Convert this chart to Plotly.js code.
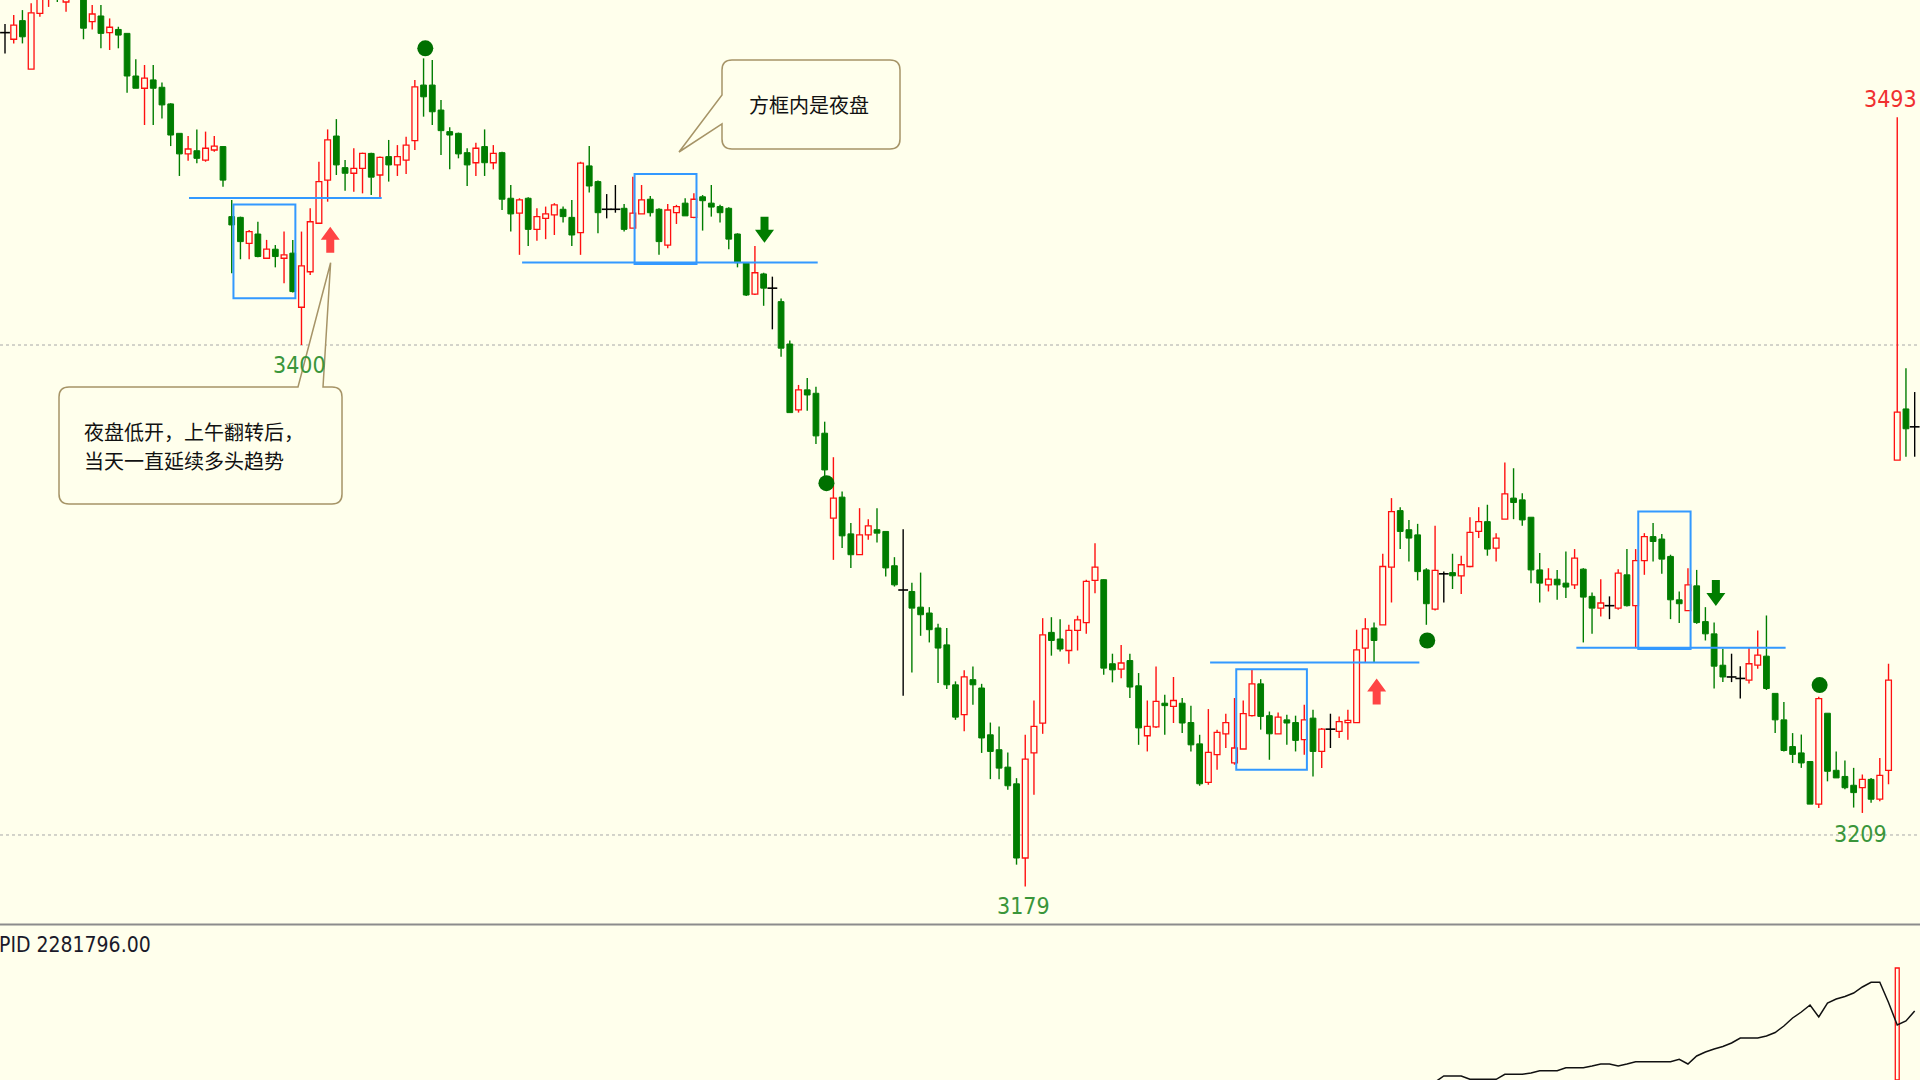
<!DOCTYPE html>
<html><head><meta charset="utf-8">
<script src="https://cdn.plot.ly/plotly-3.0.1.min.js"></script>
<style>html,body{margin:0;padding:0;background:#FFFFEC;overflow:hidden}</style>
</head><body><div id="chart" style="width:1920px;height:1080px"></div>
<script>
// ---------------- DATA ----------------
const opens = [3527.5,3524.8,3532.4,3512.6,3535.4,3542,3550,3540,3548,3546,
3532,3534.3,3527.5,3528.8,3527.2,3509.8,3504.8,3508.2,3505.2,3498.4,
3486.4,3478,3479.3,3475.5,3479.6,3481,3452.4,3452.1,3441.5,3445.3,
3435.4,3439.1,3435.4,3437.5,3415.4,3429.9,3449.7,3467.3,3485.3,3472.4,
3470.1,3472.1,3478.2,3469.4,3476.9,3473.5,3475.5,3483.4,3506.1,3506.1,
3495.9,3487.1,3486.4,3478.5,3474.4,3481,3474.4,3478.5,3459.9,3453.8,
3459.9,3447.2,3451.7,3453.1,3455.4,3452.1,3445.9,3473.1,3466.7,3455.4,
3455.4,3455.8,3447.7,3453.5,3459.5,3455.4,3440.8,3454,3457.9,3452.1,
3460.5,3457.9,3456.5,3455.8,3445.3,3433.4,3420.8,3429,3423.2,3417.7,
3400.4,3373.5,3381.7,3380.3,3364,3329.3,3337.9,3322.9,3314.4,3322.5,
3324.6,3323.9,3309.9,3300,3299.4,3293,3290.6,3284.5,3277.6,3261.3,
3249.1,3263.4,3260,3240.9,3234.8,3227.7,3220.9,3190.6,3233.5,3245.7,
3282.7,3280,3275.3,3283.5,3286.7,3303.9,3304.2,3269.9,3267.7,3271.2,
3260.9,3240.5,3244.1,3253.8,3252.5,3253.8,3245.9,3237.2,3221.5,3232.8,
3241.3,3229.4,3235.1,3248.7,3261.7,3248.7,3241.3,3247,3245.9,3238.9,
3247.7,3234.1,3243.2,3242.3,3245.9,3245.9,3276.3,3284.5,3285.8,3309.3,
3332.4,3324.6,3322.5,3308.2,3292.2,3306.6,3307.1,3305.8,3309.6,3323.9,
3327.9,3317.1,3328.9,3337.5,3336.8,3329.7,3308.2,3302.1,3304.4,3302.8,
3302.1,3308.5,3297.4,3292.6,3293.6,3292.6,3306.2,3293.6,3312,3321.8,
3320.8,3313.7,3296,3291.6,3301.7,3287.1,3282.1,3269.3,3264.5,3263.9,
3263.2,3269.3,3273,3257.8,3247,3236.1,3233.5,3230,3212.6,3249.7,
3226.4,3223.9,3220.3,3219.3,3222.7,3214.6,3226.4,3353,3373.9,3366.6];
const highs = [3531,3534.7,3536.7,3539.5,3552,3552,3555,3552,3558,3549,
3538.8,3538.8,3533.3,3529.9,3527.2,3516.6,3514.3,3514.3,3507.1,3498.7,
3486.4,3485.3,3488,3487.1,3485.3,3481.2,3459.2,3452.4,3446.9,3450.3,
3442.9,3440.8,3446.3,3442.9,3446.3,3455.8,3474.8,3488,3492.2,3475.5,
3480.3,3478.5,3478.5,3476.9,3483.7,3481.6,3485,3508.2,3517,3516.3,
3500,3488.9,3486.7,3480.3,3482.6,3488,3481.6,3478.9,3465.3,3459.9,
3460.3,3455.8,3456.5,3457.9,3456.5,3459.2,3474.8,3481.2,3467.1,3461.6,
3465.3,3457.6,3468.7,3465.3,3460.8,3455.8,3457.6,3457.2,3459.9,3461.9,
3461.2,3465.3,3457.2,3456.2,3445.6,3433.4,3440.4,3429.5,3427.9,3419,
3401.8,3383.7,3386.5,3383,3368.7,3354.2,3340.2,3327.3,3333.4,3328.9,
3333.4,3323.9,3313.4,3324.8,3303,3307.1,3293,3286.2,3284.5,3262.7,
3267.2,3268.8,3261.7,3245.9,3244.3,3233.7,3223.2,3240.9,3254.9,3288.5,
3288.9,3288.1,3285.8,3289.5,3304.2,3319.1,3304.4,3274,3277.6,3274,
3266.1,3254.9,3268.8,3257.2,3264.5,3255.9,3252.8,3240.9,3251.4,3243,
3249.5,3255.9,3254.9,3267.4,3263.6,3250.4,3250,3249.1,3248.7,3253.2,
3251.1,3243.7,3249.5,3248.4,3251.1,3283.8,3288.5,3286.7,3314.8,3337.5,
3333.8,3328.6,3327,3308.9,3326.2,3307.5,3314.8,3314,3329.7,3333.8,
3334.8,3323.2,3352,3349.7,3339.5,3329.7,3315.1,3308.9,3308.2,3315.7,
3316.7,3308.9,3299,3304.4,3297.4,3308.5,3316.7,3316.7,3323.2,3327.3,
3322.9,3314.4,3299.4,3308.9,3308.2,3293,3286.7,3276,3274,3268.9,
3276.6,3283.5,3289.6,3257.8,3254.3,3241.6,3241,3230,3256.4,3249.7,
3234.1,3230.4,3227.4,3224.7,3223.3,3231.4,3269.9,3493,3390.5,3380.8];
const lows = [3519,3523.1,3523.1,3512.6,3534,3538,3540,3536,3545,3524.8,
3528.8,3521.1,3520.4,3521.1,3503,3504.8,3489.8,3489.8,3492.5,3481.2,
3469,3475.2,3474.2,3474.8,3478.9,3464.6,3429.3,3435,3435,3435.8,
3435.4,3431.7,3425.2,3421.4,3400,3428.6,3449.4,3458.5,3469.4,3463,
3462.6,3461.9,3461.2,3459.9,3466.7,3469,3469.8,3479.6,3493.2,3489.8,
3477.6,3471.7,3476.2,3464.9,3469,3469,3471.7,3455.1,3446.3,3436.8,
3440.4,3442.6,3443.2,3444.9,3450,3440.4,3436.8,3462.2,3445.6,3451.7,
3454,3446.3,3447.7,3453.5,3452.4,3436.8,3439.5,3449.4,3452.7,3451.7,
3446.7,3452.4,3450,3439.1,3431.7,3420,3420.4,3416,3406.4,3395.2,
3372.4,3372.4,3373.2,3359.6,3343.6,3312.3,3317.1,3309,3314.4,3320.5,
3319.4,3305.5,3301.4,3256.8,3266.3,3281.3,3278.6,3262,3259.6,3247,
3242.3,3253.2,3233.5,3222.8,3222.8,3218.5,3187.9,3179,3216.4,3241.3,
3273.2,3274.9,3269.9,3275.3,3282.1,3298.7,3265.4,3262.3,3264,3255.9,
3236.8,3234.1,3243.7,3240.9,3245.7,3241.6,3234.1,3220.1,3220.5,3226.6,
3235.5,3228.7,3235.1,3248.4,3243,3230.7,3241.3,3236.8,3234.1,3232.8,
3223.9,3227.3,3235.5,3239.6,3238.9,3245.9,3270.2,3270.2,3285.8,3294.9,
3316.7,3311.6,3303.9,3285.8,3291.6,3294.9,3300.4,3298.4,3309.3,3321.2,
3314,3311.6,3328.9,3328.9,3326.2,3302.8,3294.9,3299.4,3296,3296.7,
3300.4,3278.6,3282.1,3289.2,3288.1,3291.9,3293.3,3276.7,3306.2,3311.6,
3306.6,3288.1,3286.5,3291.6,3286.2,3279.4,3259.8,3262.4,3262.4,3255.7,
3261.8,3267.9,3259.2,3241.6,3234.1,3229.4,3227.4,3212.6,3211,3221.9,
3223.3,3218.7,3211.2,3209,3213.2,3213.8,3220.7,3353,3354.4,3354.4];
const closes = [3527.5,3530.6,3525.8,3535.6,3546,3548,3545,3546,3553,3529.3,
3535.1,3527.2,3529.7,3526.5,3509.8,3504.8,3508.9,3504.8,3498,3485.7,
3478,3480,3476.2,3480.3,3481.2,3467.3,3449,3442.2,3446.3,3436.1,
3439.1,3436.1,3436.8,3421.8,3432.3,3450.3,3466.7,3483.7,3473.5,3470.1,
3472.1,3478.2,3468.5,3476.6,3473.5,3476.9,3481.6,3505.4,3501.3,3495.2,
3487.5,3485.7,3478,3473.5,3480.3,3474.4,3478.2,3459.5,3453.5,3459.2,
3447.2,3452.4,3453.5,3457.2,3452.4,3444.9,3474.2,3464.9,3454,3455.4,
3455.4,3447.2,3453.8,3459.2,3454,3442.2,3455.1,3456.5,3452.7,3459.5,
3458.9,3456.3,3454,3443.2,3433.6,3420.4,3429.5,3423.2,3423.2,3398.7,
3372.4,3381.7,3379.6,3362.9,3349,3337.5,3322.1,3314.4,3322.5,3326.2,
3323.2,3309,3302.1,3300,3292.6,3289.9,3283.8,3276.3,3261.3,3248.1,
3264.5,3261.3,3239.6,3234.1,3227.3,3220.1,3190.6,3231,3244.3,3281.7,
3279.4,3275.9,3283.5,3287.8,3303.5,3309.3,3268.1,3267.4,3270.2,3260.4,
3243.7,3244.3,3254.5,3252.8,3254.9,3245.7,3236.8,3220.9,3233.7,3241.9,
3245.9,3235.5,3249.5,3261.7,3248.4,3241.3,3248.1,3245.7,3238.6,3247,
3234.1,3243.2,3243.2,3246.3,3246.8,3275.6,3284.1,3279.4,3309.6,3332,
3323.9,3321.2,3307.5,3294.4,3308,3306.6,3305.8,3310.3,3323.5,3327.9,
3316.7,3321.2,3339.2,3335.7,3328.6,3308.2,3302.8,3304.4,3302.1,3301.2,
3313,3297.1,3292.6,3294.7,3293.6,3306.9,3293.6,3312,3321.8,3319.8,
3312.6,3296,3294.4,3302.1,3286.7,3282.1,3268.9,3264.5,3264.5,3263.9,
3269.9,3273.4,3259.8,3247,3234.5,3232.9,3229.4,3212.6,3255.7,3226,
3223.3,3219.3,3217.3,3222.7,3214.6,3224.3,3263.2,3372.6,3365.8,3366.6];

// lower indicator panel
const pidIdx  = [164,165,166,167,168,169,170,171,172,173,174,175,176,177,178,179,180,181,182,183,184,185,186,187,188,189,190,191,192,193,194,195,196,197,198,199,200,201,202,203,204,205,206,207,208,209,210,211,212,213,214,215,216,217,218,219];
const pidVals = [-2,4,4,4,0.7,0.7,0.7,0.7,5.7,5.7,5.7,7,9.3,9.3,9.3,12.3,12.3,12.3,14,16,16,14,16,18.3,18.3,18.3,18.3,18.3,20.7,16,24,28,31,33.5,37,42,42,42,44,47.5,54,62,68,75,63,77,81,83.5,87,93,97.7,97.7,77.5,55,59,69];
const pidLabel = "PID 2281796.00";
const volIdx = [217];
const volVals = [112];

// reference levels / annotations
const gridLevels = [3400, 3200];
const hlineStart = [21.1, 59.3, 138.2, 180.2];
const hlineEnd   = [43.2, 93.2, 162.2, 204.2];
const hlinePrice = [3460, 3433.7, 3270.4, 3276.4];
const boxStart  = [26.2, 72.2, 141.2, 187.3];
const boxEnd    = [33.3, 79.3, 149.3, 193.3];
const boxTop    = [3457.4, 3469.8, 3267.7, 3332];
const boxBottom = [3419.1, 3433.1, 3226.6, 3275.9];
const dotIdx   = [48.2, 94.2, 163.1, 208.1];
const dotPrice = [3521.1, 3343.6, 3279.4, 3261.2];
const upArrowIdx = [37.3, 157.3];
const upArrowPrice = [3443, 3258.6];
const downArrowIdx = [87.1, 196.2];
const downArrowPrice = [3447, 3298.8];
const priceLabels = ["3400", "3179", "3209", "3493"];
const priceLabelIdx = [33.8, 116.8, 212.8, 219.55];
const priceLabelPrice = [3391.9, 3171.2, 3200.6, 3500.3];
const priceLabelAnchor = ["center", "center", "center", "right"];
const priceLabelColor = ["#3A963A", "#3A963A", "#3A963A", "#F03030"];
const note1 = "方框内是夜盘";
const note2 = ["夜盘低开，上午翻转后，", "当天一直延续多头趋势"];

// ---------------- STYLE ----------------
const W = 1920, H = 1080;
const BG = "#FFFFEC";
const RED = "#FF1010", GREEN = "#007D00", BLUE = "#3399FF";
const xRange = [-0.573, 219.61];
const mainTopPx = 0, mainBotPx = 924;
const yRange = [3163.67, 3540.82];
const y2Range = [0, 154];
const PX_X = W / (xRange[1] - xRange[0]);
const PX_Y = (mainBotPx - mainTopPx) / (yRange[1] - yRange[0]);

const N = opens.length;
const up = [], dn = [], dj = [];
for (let i = 0; i < N; i++) {
  if (closes[i] > opens[i]) up.push(i);
  else if (closes[i] < opens[i]) dn.push(i);
  else dj.push(i);
}
function wicks(ids) {
  const x = [], y = [];
  ids.forEach(i => {
    const top = Math.max(opens[i], closes[i]), bot = Math.min(opens[i], closes[i]);
    if (highs[i] > top) { x.push(i, i, null); y.push(top, highs[i], null); }
    if (lows[i] < bot) { x.push(i, i, null); y.push(lows[i], bot, null); }
  });
  return {x, y};
}
const wUp = wicks(up), wDn = wicks(dn), wDj = wicks(dj);
const BW = 0.66;

const traces = [
  {type:'bar', x: up, base: up.map(i => opens[i]), y: up.map(i => closes[i] - opens[i]), width: BW,
   marker:{color: BG, line:{color: RED, width: 1.3}}, hoverinfo:'skip', showlegend:false},
  {type:'bar', x: dn, base: dn.map(i => closes[i]), y: dn.map(i => opens[i] - closes[i]), width: BW,
   marker:{color: GREEN, line:{color: GREEN, width: 1}}, hoverinfo:'skip', showlegend:false},
  {type:'scatter', mode:'lines', x: wUp.x, y: wUp.y, line:{color: RED, width: 1.4}, hoverinfo:'skip', showlegend:false},
  {type:'scatter', mode:'lines', x: wDn.x, y: wDn.y, line:{color: GREEN, width: 1.4}, hoverinfo:'skip', showlegend:false},
  {type:'scatter', mode:'lines', x: wDj.x, y: wDj.y, line:{color: '#000', width: 1.4}, hoverinfo:'skip', showlegend:false},
  {type:'scatter', mode:'markers', x: dj, y: dj.map(i => closes[i]),
   marker:{symbol:'line-ew', size: 7, line:{color:'#000', width: 1.6}}, hoverinfo:'skip', showlegend:false},
  {type:'scatter', mode:'markers', x: dotIdx, y: dotPrice,
   marker:{symbol:'circle', size: 16, color: '#007000', line:{width:0}}, hoverinfo:'skip', showlegend:false},
  {type:'scatter', mode:'lines', x: pidIdx, y: pidVals, yaxis:'y2', line:{color:'#111', width: 1.5},
   hoverinfo:'skip', showlegend:false, cliponaxis:true},
  {type:'bar', x: volIdx, y: volVals, yaxis:'y2', width: 0.45,
   marker:{color: BG, line:{color: RED, width: 1.3}}, hoverinfo:'skip', showlegend:false}
];

// ---------------- SHAPES ----------------
const shapes = [];
gridLevels.forEach(p => shapes.push({type:'line', xref:'paper', x0:0, x1:1, yref:'y', y0:p, y1:p,
  line:{color:'#A8A8A8', width:1, dash:'dot'}, layer:'below'}));
hlinePrice.forEach((p, k) => shapes.push({type:'line', xref:'x', yref:'y', x0: hlineStart[k], x1: hlineEnd[k], y0:p, y1:p,
  line:{color: BLUE, width: 2}}));
boxTop.forEach((t, k) => shapes.push({type:'rect', xref:'x', yref:'y', x0: boxStart[k], x1: boxEnd[k], y0: boxBottom[k], y1: t,
  line:{color: BLUE, width: 2}, fillcolor:'rgba(0,0,0,0)'}));

function arrowPath(ci, cp, dir) {
  const hw = 9.5 / PX_X, sw = 4 / PX_X, hh = 13 / PX_Y;
  const tip = cp + dir * hh, base = cp, end = cp - dir * hh;
  return `M ${ci} ${tip} L ${ci + hw} ${base} L ${ci + sw} ${base} L ${ci + sw} ${end} L ${ci - sw} ${end} L ${ci - sw} ${base} L ${ci - hw} ${base} Z`;
}
upArrowIdx.forEach((ci, k) => shapes.push({type:'path', xref:'x', yref:'y', path: arrowPath(ci, upArrowPrice[k], 1),
  fillcolor:'#FF4444', line:{width:0}}));
downArrowIdx.forEach((ci, k) => shapes.push({type:'path', xref:'x', yref:'y', path: arrowPath(ci, downArrowPrice[k], -1),
  fillcolor: GREEN, line:{width:0}}));

// panel separator
shapes.push({type:'line', xref:'paper', yref:'paper', x0:0, x1:1, y0: 1 - 924.5 / H, y1: 1 - 924.5 / H, line:{color:'#8C8C8C', width:2}});

// callouts (pixel geometry -> paper)
function P(x, y) { return (x / W).toFixed(5) + ' ' + (1 - y / H).toFixed(5); }
function callout1() {
  const x0 = 722, y0 = 60, x1 = 900, y1 = 149, r = 10;
  const ya = 95, yb = 124, tx = 679, ty = 152;
  return `M ${P(x0 + r, y0)} L ${P(x1 - r, y0)} Q ${P(x1, y0)} ${P(x1, y0 + r)} L ${P(x1, y1 - r)} Q ${P(x1, y1)} ${P(x1 - r, y1)} ` +
         `L ${P(x0 + r, y1)} Q ${P(x0, y1)} ${P(x0, y1 - r)} L ${P(x0, yb)} L ${P(tx, ty)} L ${P(x0, ya)} L ${P(x0, y0 + r)} Q ${P(x0, y0)} ${P(x0 + r, y0)} Z`;
}
function callout2() {
  const x0 = 59, y0 = 387, x1 = 342, y1 = 504, r = 10;
  const xa = 298, xb = 323, tx = 330.6, ty = 262.7;
  return `M ${P(x0 + r, y0)} L ${P(xa, y0)} L ${P(tx, ty)} L ${P(xb, y0)} L ${P(x1 - r, y0)} Q ${P(x1, y0)} ${P(x1, y0 + r)} ` +
         `L ${P(x1, y1 - r)} Q ${P(x1, y1)} ${P(x1 - r, y1)} L ${P(x0 + r, y1)} Q ${P(x0, y1)} ${P(x0, y1 - r)} L ${P(x0, y0 + r)} Q ${P(x0, y0)} ${P(x0 + r, y0)} Z`;
}
shapes.push({type:'path', xref:'paper', yref:'paper', path: callout1(), fillcolor: BG, line:{color:'#A69467', width:1.5}});
shapes.push({type:'path', xref:'paper', yref:'paper', path: callout2(), fillcolor: BG, line:{color:'#A69467', width:1.5}});

// ---------------- ANNOTATIONS ----------------
const numFont = 'Liberation Sans Narrow, Arial Narrow, DejaVu Sans Condensed, sans-serif';
const cjkFont = 'Noto Sans CJK SC, sans-serif';
const annotations = priceLabels.map((t, k) => ({xref:'x', yref:'y', x: priceLabelIdx[k], y: priceLabelPrice[k], text: t,
  showarrow:false, xanchor: priceLabelAnchor[k], yanchor:'middle', font:{family: numFont, size: 23, color: priceLabelColor[k]}}));
annotations.push({xref:'paper', yref:'paper', x: 809 / W, y: 1 - 105 / H, text: note1, showarrow:false,
  xanchor:'center', yanchor:'middle', font:{family: cjkFont, size: 20, color:'#111'}});
annotations.push({xref:'paper', yref:'paper', x: 82 / W, y: 1 - 431 / H, text: note2[0], showarrow:false,
  xanchor:'left', yanchor:'middle', font:{family: cjkFont, size: 20, color:'#111'}});
annotations.push({xref:'paper', yref:'paper', x: 82 / W, y: 1 - 460 / H, text: note2[1], showarrow:false,
  xanchor:'left', yanchor:'middle', font:{family: cjkFont, size: 20, color:'#111'}});
annotations.push({xref:'paper', yref:'paper', x: -3 / W, y: 1 - 945 / H, text: pidLabel, showarrow:false,
  xanchor:'left', yanchor:'middle', font:{family: numFont, size: 21, color:'#1A1A2A'}});

const layout = {
  width: W, height: H,
  margin:{l:0, r:0, t:0, b:0, pad:0},
  paper_bgcolor: BG, plot_bgcolor: BG,
  showlegend:false, barmode:'overlay', hovermode:false,
  xaxis:{range: xRange, visible:false, fixedrange:true, anchor:'y'},
  yaxis:{range: yRange, domain:[1 - mainBotPx / H, 1], visible:false, fixedrange:true},
  yaxis2:{range: y2Range, domain:[0, 154 / H], visible:false, fixedrange:true, anchor:'x'},
  shapes, annotations
};
Plotly.newPlot('chart', traces, layout, {staticPlot:true, displayModeBar:false});
</script></body></html>
